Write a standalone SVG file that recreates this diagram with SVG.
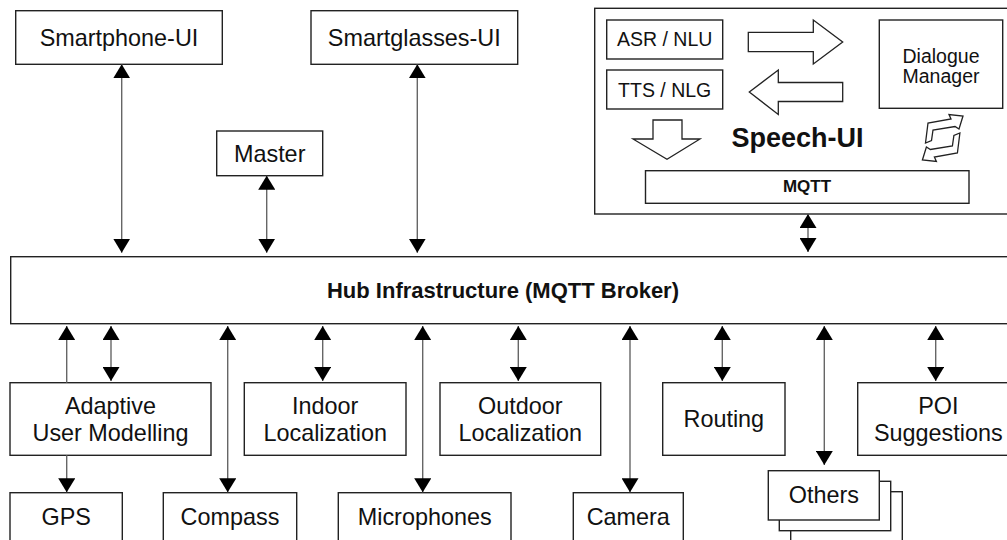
<svg xmlns="http://www.w3.org/2000/svg" width="1007" height="540" viewBox="0 0 1007 540">
<defs>
<style>
.box{fill:#fff;stroke:#222;stroke-width:1.4}
.t{font-family:"Liberation Sans",Arial,sans-serif;font-size:23.4px;fill:#111;text-anchor:middle}
.s{font-family:"Liberation Sans",Arial,sans-serif;font-size:19.5px;fill:#111;text-anchor:middle}
.b{font-family:"Liberation Sans",Arial,sans-serif;font-weight:bold;fill:#111;text-anchor:middle}
.c{stroke:#666;stroke-width:1.4;fill:none}
.ah{fill:#000}
.hol{fill:#fff;stroke:#222;stroke-width:1.3;stroke-linejoin:miter}
</style>
<marker id="a" viewBox="0 0 14 17" refX="14" refY="8.5" markerWidth="14" markerHeight="17" markerUnits="userSpaceOnUse" orient="auto-start-reverse">
<path d="M0,0 L14,8.5 L0,17 z" class="ah"/>
</marker>
</defs>
<rect width="1007" height="540" fill="#fff"/>

<g id="speech-ui">
<rect class="box" x="594.7" y="8.3" width="420" height="205.7"/>
<g id="asr"><rect class="box" x="606.7" y="20" width="116" height="39"/><text class="s" x="664.7" y="45.7">ASR / NLU</text></g>
<g id="tts"><rect class="box" x="606.7" y="70" width="116" height="39"/><text class="s" x="664.7" y="96.5">TTS / NLG</text></g>
<g id="dm"><rect class="box" x="879.3" y="20" width="123.4" height="88.3"/><text class="s" x="941" y="62.5">Dialogue</text><text class="s" x="941" y="82.5">Manager</text></g>
<path class="hol" d="M748.3,32.3 L813.3,32.3 L813.3,20 L842.7,42 L813.3,64 L813.3,51.7 L748.3,51.7 Z"/>
<path class="hol" d="M842.7,82.5 L778.3,82.5 L778.3,70 L749.3,92 L778.3,114.5 L778.3,101.5 L842.7,101.5 Z"/>
<path class="hol" d="M653,120 L682,120 L682,139 L700,139 L667,159.3 L633,139 L653,139 Z"/>
<path class="hol" d="M925.5,143 L928,123 L951,119 L949,114.5 L963,116 L959,129 L955,126.5 L933,130 L931.5,140.5 Z"/>
<path class="hol" d="M959.9,133 L957.4,153 L934.4,157 L936.4,161.5 L922.4,160 L926.4,147 L930.4,149.5 L952.4,146 L953.9,135.5 Z"/>
<text class="b" x="797.5" y="146.5" font-size="27px">Speech-UI</text>
<g id="mqtt"><rect class="box" x="645.5" y="170.7" width="323.5" height="32.6"/><text class="b" x="807" y="192" font-size="17px">MQTT</text></g>
</g>

<g id="smartphone"><rect class="box" x="15.7" y="10.7" width="206.6" height="53.6"/><text class="t" x="119" y="46">Smartphone-UI</text></g>
<g id="smartglasses"><rect class="box" x="311" y="10.7" width="206.7" height="53.6"/><text class="t" x="414.3" y="46">Smartglasses-UI</text></g>
<g id="master"><rect class="box" x="216.7" y="131" width="106" height="44.7"/><text class="t" x="269.7" y="161.7">Master</text></g>

<g id="hub"><rect class="box" x="10.7" y="256.7" width="1010" height="67"/><text class="b" x="503" y="298.3" font-size="22px">Hub Infrastructure (MQTT Broker)</text></g>

<g id="adaptive"><rect class="box" x="10" y="382.7" width="201" height="72.6"/><text class="t" x="110.5" y="414">Adaptive</text><text class="t" x="110.5" y="441">User Modelling</text></g>
<g id="indoor"><rect class="box" x="244.3" y="382.7" width="161.7" height="72.6"/><text class="t" x="325.2" y="414">Indoor</text><text class="t" x="325.2" y="441">Localization</text></g>
<g id="outdoor"><rect class="box" x="440" y="382.7" width="160.7" height="72.6"/><text class="t" x="520.3" y="414">Outdoor</text><text class="t" x="520.3" y="441">Localization</text></g>
<g id="routing"><rect class="box" x="662.7" y="382.7" width="122.3" height="72.6"/><text class="t" x="723.8" y="427">Routing</text></g>
<g id="poi"><rect class="box" x="857.7" y="382.7" width="161" height="72.6"/><text class="t" x="938.3" y="414">POI</text><text class="t" x="938.3" y="441">Suggestions</text></g>

<g id="gps"><rect class="box" x="10" y="492.7" width="112.3" height="60"/><text class="t" x="66.2" y="525">GPS</text></g>
<g id="compass"><rect class="box" x="163.3" y="492.7" width="133.4" height="60"/><text class="t" x="230" y="525">Compass</text></g>
<g id="microphones"><rect class="box" x="338.3" y="492.7" width="172.7" height="60"/><text class="t" x="424.7" y="525">Microphones</text></g>
<g id="camera"><rect class="box" x="573.3" y="492.7" width="110" height="60"/><text class="t" x="628.3" y="525">Camera</text></g>
<g id="others">
<rect class="box" x="790.7" y="491.7" width="111.6" height="60"/>
<rect class="box" x="779.3" y="481.3" width="111.4" height="49.4"/>
<rect class="box" x="768.3" y="470.7" width="111" height="49.3"/>
<text class="t" x="823.8" y="502.7">Others</text>
</g>

<g id="connectors">
<line class="c" x1="121.7" y1="64.3" x2="121.7" y2="252.7" marker-start="url(#a)" marker-end="url(#a)"/>
<line class="c" x1="266.7" y1="175.7" x2="266.7" y2="252.7" marker-start="url(#a)" marker-end="url(#a)"/>
<line class="c" x1="417.3" y1="64.3" x2="417.3" y2="252.7" marker-start="url(#a)" marker-end="url(#a)"/>
<line class="c" x1="808" y1="214" x2="808" y2="252" marker-start="url(#a)" marker-end="url(#a)"/>
<line class="c" x1="66.7" y1="382.7" x2="66.7" y2="326"  marker-end="url(#a)"/>
<line class="c" x1="66.7" y1="455.3" x2="66.7" y2="492.3" marker-end="url(#a)"/>
<line class="c" x1="111" y1="326" x2="111" y2="381" marker-start="url(#a)" marker-end="url(#a)"/>
<line class="c" x1="227.7" y1="326" x2="227.7" y2="492.3" marker-start="url(#a)" marker-end="url(#a)"/>
<line class="c" x1="322.7" y1="326" x2="322.7" y2="381" marker-start="url(#a)" marker-end="url(#a)"/>
<line class="c" x1="422.7" y1="326" x2="422.7" y2="492.3" marker-start="url(#a)" marker-end="url(#a)"/>
<line class="c" x1="518.3" y1="326" x2="518.3" y2="381" marker-start="url(#a)" marker-end="url(#a)"/>
<line class="c" x1="630" y1="326" x2="630" y2="492.3" marker-start="url(#a)" marker-end="url(#a)"/>
<line class="c" x1="722.3" y1="326" x2="722.3" y2="381" marker-start="url(#a)" marker-end="url(#a)"/>
<line class="c" x1="824.3" y1="326" x2="824.3" y2="465" marker-start="url(#a)" marker-end="url(#a)"/>
<line class="c" x1="935.7" y1="326" x2="935.7" y2="381" marker-start="url(#a)" marker-end="url(#a)"/>
</g>
</svg>
